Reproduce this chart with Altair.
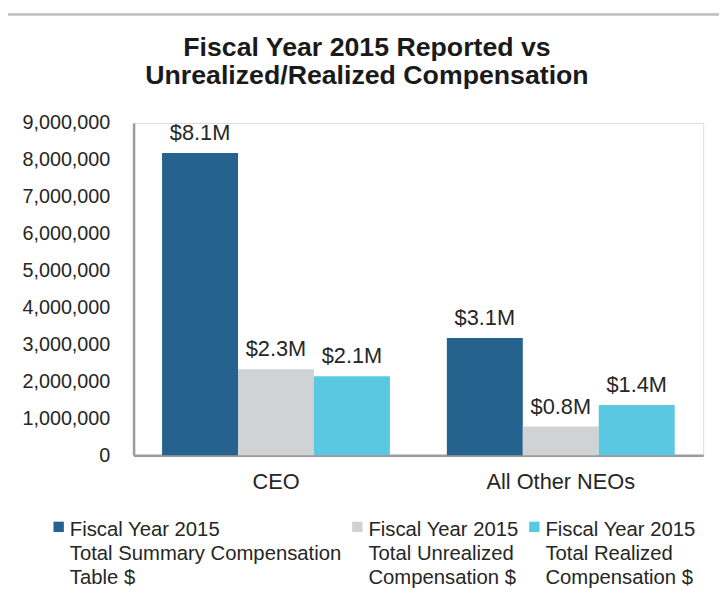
import altair as alt
import pandas as pd

groups = ["CEO", "All Other NEOs"]
series = [
    "Fiscal Year 2015|Total Summary Compensation|Table $",
    "Fiscal Year 2015|Total Unrealized|Compensation $",
    "Fiscal Year 2015|Total Realized|Compensation $",
]
ceo_values = [8190000, 2330000, 2140000]
neo_values = [3180000, 780000, 1360000]
ceo_labels = ["$8.1M", "$2.3M", "$2.1M"]
neo_labels = ["$3.1M", "$0.8M", "$1.4M"]
colors = ["#26628E", "#D1D2D4", "#5BC8E2"]
y_ticks = [0, 1000000, 2000000, 3000000, 4000000, 5000000, 6000000, 7000000, 8000000, 9000000]
title_lines = ["Fiscal Year 2015 Reported vs", "Unrealized/Realized Compensation"]

rows = []
for g, vals, labs in [(groups[0], ceo_values, ceo_labels), (groups[1], neo_values, neo_labels)]:
    for s, v, l in zip(series, vals, labs):
        rows.append({"group": g, "series": s, "value": v, "label": l})
df = pd.DataFrame(rows)

FONT = "Liberation Sans"
TXT = "#262626"
LDY = -7  # shift applied to guide labels (legend first line alignment)

x = alt.X("group:N", sort=groups, title=None,
          scale=alt.Scale(paddingInner=0.2, paddingOuter=0.1),
          axis=alt.Axis(labelAngle=0, labelFontSize=22, labelFont=FONT, labelColor=TXT,
                        labelPadding=17 - LDY, ticks=False, tickSize=0, domainColor="#9B9B9B",
                        domainWidth=2.5))
xo = alt.XOffset("series:N", sort=series, scale=alt.Scale(paddingInner=0, paddingOuter=0))
y = alt.Y("value:Q", title=None,
          scale=alt.Scale(domain=[0, 9000000], nice=False),
          axis=alt.Axis(values=y_ticks, format=",d", labelOverlap=False,
                        grid=False, ticks=False, tickSize=0, labelFontSize=20, labelFont=FONT,
                        labelColor=TXT, labelPadding=24, labelOffset=-LDY,
                        domainColor="#9B9B9B", domainWidth=2.5))

bars = alt.Chart(df).mark_bar(stroke=None).encode(
    x=x, xOffset=xo, y=y,
    color=alt.Color("series:N", sort=series,
                    scale=alt.Scale(domain=series, range=colors),
                    legend=alt.Legend(title=None, orient="none", legendX=-86, legendY=398,
                                      padding=0, direction="horizontal", columns=3,
                                      columnPadding=5,
                                      symbolType="square", symbolSize=110, symbolStrokeWidth=0,
                                      labelFontSize=20.5, labelFont=FONT, labelColor=TXT,
                                      labelOffset=1, labelLimit=400, labelBaseline="top",
                                      labelExpr="split(datum.label, '|')")),
)

texts = alt.Chart(df).mark_text(baseline="alphabetic", dy=-13, fontSize=22, font=FONT,
                                color=TXT).encode(
    x=alt.X("group:N", sort=groups), xOffset=alt.XOffset("series:N", sort=series),
    y=y, text="label:N")

frame_top = alt.Chart(df).mark_rule(color="#C4C4C4", strokeWidth=2).encode(
    x=alt.value(-129), x2=alt.value(800), y=alt.value(-110))
frame_left = alt.Chart(df).mark_rule(color="#C4C4C4", strokeWidth=2).encode(
    x=alt.value(-129), y=alt.value(-110), y2=alt.value(600))

chart = alt.layer(frame_top, frame_left, bars, texts).properties(
    width=576, height=336,
    autosize=alt.AutoSizeParams(type="none"),
    padding={"left": 127, "top": 113, "right": 16, "bottom": 141},
    title=alt.TitleParams(
        text=title_lines,
        fontSize=27, font=FONT, fontWeight="bold", color="#1A1A1A",
        anchor="middle", dx=-52, dy=78, lineHeight=29, offset=0),
).configure_view(stroke=None).configure(
    style={"guide-label": {"lineHeight": 24.5, "dy": LDY}}
)

chart.save("out.html", embed_options={"renderer": "svg", "actions": False})
